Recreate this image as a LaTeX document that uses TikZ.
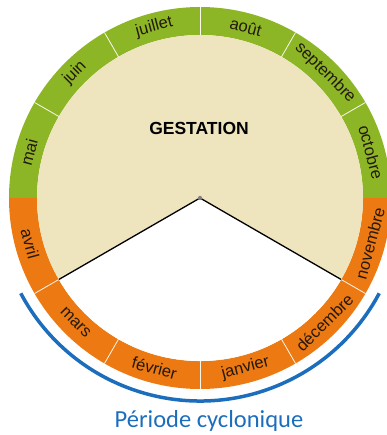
\documentclass[tikz,border=0pt]{standalone}
\usepackage{fontspec}
\setmainfont{Liberation Sans}
\newfontfamily\calibri{Carlito}
\definecolor{leafgreen}{RGB}{141,182,38}
\definecolor{cycorange}{RGB}{236,121,18}
\definecolor{gestbeige}{RGB}{238,228,190}
\definecolor{cycblue}{RGB}{28,110,188}
\definecolor{monthtxt}{RGB}{35,25,15}
\begin{document}
\begin{tikzpicture}[x=1pt,y=1pt, every node/.style={font=\fontsize{16.5}{16.5}\selectfont,text=monthtxt},
  month/.style={inner sep=0pt,anchor=center},
  sep/.style={draw=white!70!gestbeige,line width=0.8pt}]
\useasboundingbox (-200,-237) rectangle (186,198);
% ring and inner disc
\fill[leafgreen] (0:191) arc[start angle=0,end angle=180,radius=191] -- (180:163) arc[start angle=180,end angle=0,radius=163] -- cycle;
\fill[cycorange] (180:191) arc[start angle=180,end angle=360,radius=191] -- (0:163) arc[start angle=360,end angle=180,radius=163] -- cycle;
\fill[gestbeige] (0,0) circle[radius=163];
\fill[white] (0,0) -- (-150:163) arc[start angle=-150,end angle=-30,radius=163] -- cycle;
\foreach \a in {30,60,...,150,210,240,...,330} \draw[sep] (\a:163) -- (\a:191);
% months
\foreach \m/\a [count=\i] in {mai/165,juin/135,juillet/105,août/75,septembre/45,octobre/15}
  \node[month,rotate=\a-90] (top\i) at (\a:177) {\m};
\foreach \m/\a [count=\i] in {novembre/-15,décembre/-45,janvier/-75,février/-105,mars/-135,avril/-165}
  \node[month,rotate=\a+90] (bot\i) at (\a:176) {\m};
\node[font=\bfseries\fontsize{17.5}{17.5}\selectfont,text=black] (gest) at (-1,70) {GESTATION};
% wedge edges
\coordinate (ctr) at (0,0); \coordinate (wl) at (-150:163); \coordinate (wr) at (-30:163);
\draw[line width=1.3pt] (wl) -- (ctr) -- (wr);
\node[circle,fill=gray,inner sep=1.5pt] (pin) at (ctr) {};
% cyclone season
\coordinate (cs) at (-152:203);
\draw[cycblue,line width=3.5pt] (cs) arc[start angle=-152,end angle=-28,radius=203];
\node[font=\calibri\fontsize{24.5}{24.5}\selectfont,text=cycblue] (cyclo) at (9,-223) {Période cyclonique};
\end{tikzpicture}
\end{document}
